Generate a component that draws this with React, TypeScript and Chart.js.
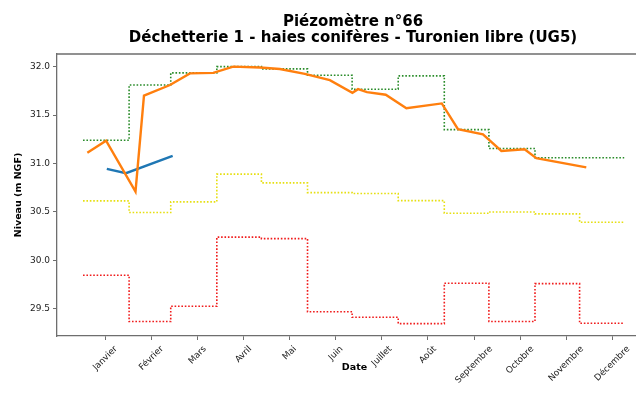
import React, { useEffect, useRef } from 'react';
import { Chart, registerables } from 'chart.js';

Chart.register(...registerables);

// ---- Data ----
const titleLines = ['Piézomètre n°66', 'Déchetterie 1 - haies conifères - Turonien libre (UG5)'];
const yAxisTitle = 'Niveau (m NGF)';
const xAxisTitle = 'Date';

const monthLabels = ['Janvier', 'Février', 'Mars', 'Avril', 'Mai', 'Juin', 'Juillet', 'Août', 'Septembre', 'Octobre', 'Novembre', 'Décembre'];
// tick positions (day of year)
const tickDays = [15, 46, 77, 108, 139, 170, 201, 232, 263, 294, 325, 356];
const yTickValues = [29.5, 30.0, 30.5, 31.0, 31.5, 32.0];

// monthly step series (month start day of year, value for that month)
const monthStartDays = [0, 31, 59, 90, 120, 151, 181, 212, 243, 273, 304, 334];
const periodEndDay = 364;
const greenMonthly = [31.24, 31.81, 31.935, 32.0, 31.976, 31.91, 31.767, 31.904, 31.35, 31.155, 31.06, 31.06];
const yellowMonthly = [30.614, 30.494, 30.604, 30.89, 30.8, 30.7, 30.69, 30.617, 30.487, 30.5, 30.48, 30.394];
const redMonthly = [29.847, 29.37, 29.527, 30.24, 30.225, 29.47, 29.414, 29.348, 29.765, 29.37, 29.76, 29.352];

// measured series
const orangeDays = [2.9, 15.5, 35.3, 41, 58.5, 71.9, 87.6, 101, 119, 132.4, 149.2, 166, 181.2, 185, 191, 203.6, 217.5, 241.3, 252.2, 269, 281.4, 297, 304.9, 338.5];
const orangeValues = [31.11, 31.235, 30.71, 31.7, 31.81, 31.93, 31.935, 32.0, 31.99, 31.975, 31.925, 31.86, 31.73, 31.767, 31.736, 31.71, 31.57, 31.62, 31.354, 31.3, 31.13, 31.147, 31.055, 30.96];
const blueDays = [16, 28.9, 60.3];
const blueValues = [30.944, 30.9, 31.08];

const stepPoints = (vals: number[]) => {
  const pts = monthStartDays.map((d, i) => ({ x: d, y: vals[i] }));
  pts.push({ x: periodEndDay, y: vals[vals.length - 1] });
  return pts;
};
const linePoints = (xs: number[], ys: number[]) => xs.map((x, i) => ({ x, y: ys[i] }));

const SPINE = '#6e6e6e';
const TEXT = '#222222';

const overlayPlugin = {
  id: 'overlay',
  afterDraw(chart: any) {
    const ctx = chart.ctx as CanvasRenderingContext2D;
    const { left, right, top, bottom } = chart.chartArea;
    ctx.save();
    // top & right spines
    ctx.strokeStyle = SPINE;
    ctx.lineWidth = 1.3;
    ctx.beginPath();
    ctx.moveTo(left, top);
    ctx.lineTo(right, top);
    ctx.lineTo(right, bottom);
    ctx.stroke();

    // x tick labels rotated 45°, centred on tick (matplotlib style)
    const xs = chart.scales.x;
    const fs = 8.8;
    ctx.font = `${fs}px "DejaVu Sans"`;
    ctx.fillStyle = TEXT;
    ctx.textAlign = 'center';
    ctx.textBaseline = 'middle';
    const h = fs * 1.15;
    monthLabels.forEach((lab, i) => {
      const px = xs.getPixelForValue(tickDays[i]);
      const w = ctx.measureText(lab).width;
      const s = (w + h) * Math.SQRT1_2;
      ctx.save();
      ctx.translate(px, bottom + 4 + 4 + s / 2);
      ctx.rotate(-Math.PI / 4);
      ctx.fillText(lab, 0, 0);
      ctx.restore();
    });

    // axis titles
    ctx.fillStyle = '#000';
    ctx.font = `bold 9.5px "DejaVu Sans"`;
    ctx.textAlign = 'center';
    ctx.textBaseline = 'middle';
    ctx.fillText(xAxisTitle, (left + right) / 2, 368);
    ctx.save();
    ctx.translate(19, (top + bottom) / 2);
    ctx.rotate(-Math.PI / 2);
    ctx.fillText(yAxisTitle, 0, 0);
    ctx.restore();

    // title
    ctx.font = `bold 15px "DejaVu Sans"`;
    ctx.textBaseline = 'alphabetic';
    const cx = (left + right) / 2 - 1.5;
    ctx.fillText(titleLines[0], cx, 26);
    ctx.fillText(titleLines[1], cx, 42);
    ctx.restore();
  },
};

export default function App() {
  const ref = useRef<HTMLCanvasElement | null>(null);
  useEffect(() => {
    if (!ref.current) return;
    const dotted = {
      borderWidth: 1.6,
      borderDash: [1.6, 1.8],
      borderCapStyle: 'butt' as const,
      pointRadius: 0,
      stepped: true,
      fill: false,
    };
    const chart = new Chart(ref.current, {
      type: 'line',
      data: {
        datasets: [
          { label: 'orange', data: linePoints(orangeDays, orangeValues), borderColor: '#ff7f0e', borderWidth: 2.4, pointRadius: 0, tension: 0, fill: false },
          { label: 'blue', data: linePoints(blueDays, blueValues), borderColor: '#1f77b4', borderWidth: 2.4, pointRadius: 0, tension: 0, fill: false },
          { label: 'green', data: stepPoints(greenMonthly), borderColor: '#2a8c2a', ...dotted },
          { label: 'yellow', data: stepPoints(yellowMonthly), borderColor: '#e6df12', ...dotted },
          { label: 'red', data: stepPoints(redMonthly), borderColor: '#f01c1c', ...dotted },
        ],
      } as any,
      options: {
        animation: false,
        responsive: false,
        devicePixelRatio: 1,
        layout: { padding: { top: 54, right: 8, left: 0, bottom: 0 } },
        plugins: { legend: { display: false }, tooltip: { enabled: false }, title: { display: false } },
        scales: {
          x: {
            type: 'linear',
            min: -17.5,
            max: 382.7,
            afterBuildTicks: (scale: any) => {
              scale.ticks = tickDays.map((v) => ({ value: v }));
            },
            afterFit: (scale: any) => {
              scale.height = 65;
            },
            ticks: { display: false, autoSkip: false },
            grid: { display: true, drawOnChartArea: false, drawTicks: true, tickLength: 4, color: SPINE, lineWidth: 1 },
            border: { display: true, color: SPINE, width: 1.3 },
          },
          y: {
            type: 'linear',
            min: 29.22,
            max: 32.13,
            afterBuildTicks: (scale: any) => {
              scale.ticks = yTickValues.map((v) => ({ value: v }));
            },
            afterFit: (scale: any) => {
              scale.width = 57;
            },
            ticks: {
              autoSkip: false,
              padding: 3,
              color: TEXT,
              font: { family: 'DejaVu Sans', size: 9 },
              callback: (v: any) => Number(v).toFixed(1),
            },
            grid: { display: true, drawOnChartArea: false, drawTicks: true, tickLength: 4, color: SPINE, lineWidth: 1 },
            border: { display: true, color: SPINE, width: 1.3 },
          },
        },
      } as any,
      plugins: [overlayPlugin],
    });
    return () => chart.destroy();
  }, []);

  return (
    <div style={{ position: 'absolute', left: 0, top: 0, width: 636, height: 401, overflow: 'hidden', background: '#fff' }}>
      <canvas ref={ref} width={660} height={401} style={{ display: 'block' }} />
    </div>
  );
}
